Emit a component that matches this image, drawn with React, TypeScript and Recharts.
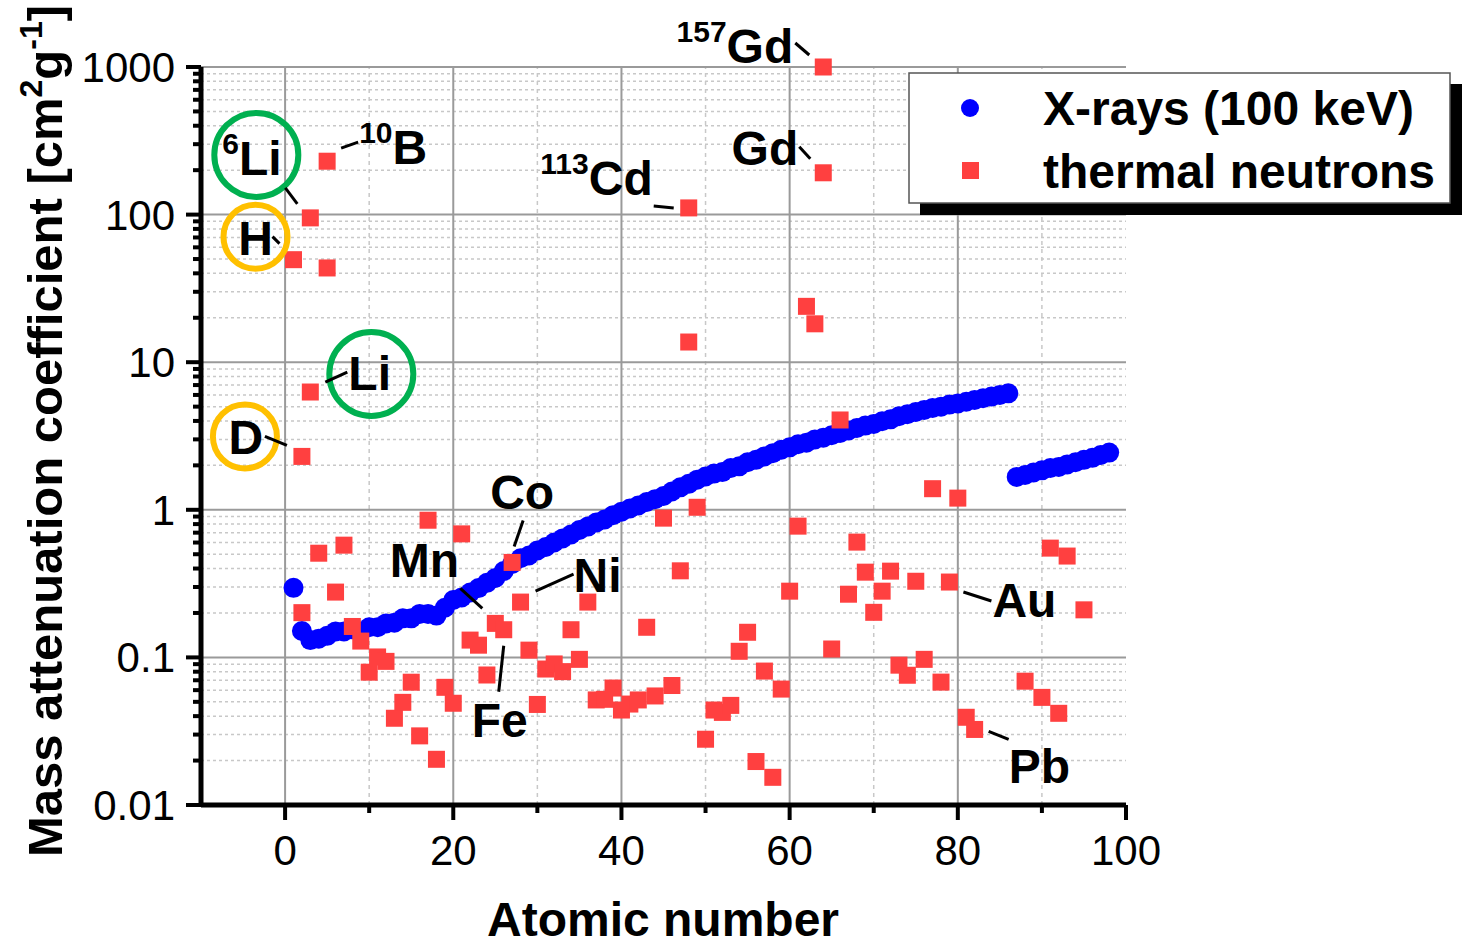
import { ScatterChart, Scatter, XAxis, YAxis, ReferenceLine, ReferenceDot, Legend } from 'recharts';

const FONT = '"Liberation Sans", Arial, sans-serif';

// X-rays at 100 keV, one value per element (Z = 1..98)
const xrayZ = [
  1, 2, 3, 4, 5, 6, 7, 8, 9, 10, 11, 12, 13, 14, 15, 16, 17, 18, 19, 20,
  21, 22, 23, 24, 25, 26, 27, 28, 29, 30, 31, 32, 33, 34, 35, 36, 37, 38, 39, 40,
  41, 42, 43, 44, 45, 46, 47, 48, 49, 50, 51, 52, 53, 54, 55, 56, 57, 58, 59, 60,
  61, 62, 63, 64, 65, 66, 67, 68, 69, 70, 71, 72, 73, 74, 75, 76, 77, 78, 79, 80,
  81, 82, 83, 84, 85, 86, 87, 88, 89, 90, 91, 92, 93, 94, 95, 96, 97, 98,
];
const xrayValues = [
  0.296, 0.151, 0.131, 0.134, 0.14, 0.15, 0.15, 0.155, 0.15, 0.16,
  0.16, 0.17, 0.172, 0.184, 0.184, 0.197, 0.197, 0.192, 0.217, 0.245,
  0.255, 0.275, 0.295, 0.32, 0.345, 0.385, 0.43, 0.47, 0.49, 0.53,
  0.56, 0.6, 0.64, 0.68, 0.73, 0.77, 0.82, 0.86, 0.92, 0.97,
  1.02, 1.07, 1.13, 1.18, 1.24, 1.33, 1.42, 1.5, 1.6, 1.68,
  1.76, 1.8, 1.92, 1.97, 2.1, 2.18, 2.3, 2.42, 2.55, 2.65,
  2.78, 2.85, 3.0, 3.08, 3.2, 3.32, 3.45, 3.58, 3.72, 3.82,
  3.98, 4.1, 4.3, 4.44, 4.6, 4.75, 4.9, 5.0, 5.16, 5.25,
  5.4, 5.55, 5.7, 5.85, 6.0, 6.15, 1.67, 1.72, 1.79, 1.85,
  1.92, 1.95, 2.03, 2.1, 2.18, 2.25, 2.35, 2.44,
];

// thermal neutrons (isotopes 6Li, 10B, 113Cd, 157Gd and D included)
const neutronZ = [
  1, 2, 2, 3, 3, 4, 5, 5, 6, 7, 8, 9, 10, 11, 12, 13, 14, 15, 16, 17, 18, 19, 20,
  21, 22, 23, 24, 25, 26, 27, 28, 29, 30, 31, 32, 33, 34, 35, 36, 37, 38, 39, 40,
  41, 42, 43, 44, 45, 46, 47, 48, 48, 49, 50, 51, 52, 53, 54, 55, 56, 57, 58, 59, 60,
  61, 62, 63, 64, 64, 65, 66, 67, 68, 69, 70, 71, 72, 73, 74, 75, 76, 77, 78, 79, 80,
  81, 82, 88, 90, 91, 92, 93, 95,
];
const neutronValues = [
  49.5, 2.3, 0.201, 95, 6.28, 0.508, 230, 43.5, 0.277, 0.576, 0.162, 0.129, 0.0794, 0.1007, 0.094, 0.0387, 0.0496, 0.0679, 0.0294, 0.85, 0.0204, 0.0627, 0.0489,
  0.687, 0.131, 0.121, 0.076, 0.17, 0.154, 0.44, 0.237, 0.112, 0.048, 0.0834, 0.0903, 0.0801, 0.154, 0.097, 0.237, 0.0515, 0.052, 0.062, 0.044,
  0.0483, 0.0515, 0.16, 0.0548, 0.878, 0.0645, 0.386, 111, 13.7, 1.04, 0.0279, 0.044, 0.0424, 0.0473, 0.11, 0.148, 0.0197, 0.0808, 0.0154, 0.061, 0.281,
  0.775, 23.9, 18.2, 1000, 192, 0.114, 4.06, 0.268, 0.604, 0.378, 0.202, 0.281, 0.384, 0.0886, 0.0757, 0.328, 0.097, 1.39, 0.068, 0.324, 1.2,
  0.0393, 0.0325, 0.069, 0.0536, 0.55, 0.0418, 0.486, 0.21,
];

const yMajorTicks = [0.01, 0.1, 1, 10, 100, 1000];
const yMinorTicks = [
  0.02, 0.03, 0.04, 0.05, 0.06, 0.07, 0.08, 0.09,
  0.2, 0.3, 0.4, 0.5, 0.6, 0.7, 0.8, 0.9,
  2, 3, 4, 5, 6, 7, 8, 9,
  20, 30, 40, 50, 60, 70, 80, 90,
  200, 300, 400, 500, 600, 700, 800, 900,
];
const xMajorTicks = [0, 20, 40, 60, 80, 100];
const xMinorTicks = [10, 30, 50, 70, 90];

// labelled points
const annotTexts = ['Gd', 'Gd', 'Cd', 'B', 'Li', 'H', 'Li', 'D', 'Co', 'Mn', 'Ni', 'Fe', 'Au', 'Pb'];
const annotSups = ['157', '', '113', '10', '6', '', '', '', '', '', '', '', '', ''];
const annotZ = [64, 64, 48, 5, 3, 1, 3, 2, 27, 25, 28, 26, 79, 82];
const annotValues = [1000, 192, 111, 230, 95, 49.5, 6.28, 2.3, 0.44, 0.17, 0.237, 0.154, 0.324, 0.0325];

// pixel offsets of text / leader line / ring relative to the point
const GREEN = '#00b050';
const ORANGE = '#ffc000';
const annotLayout: any[] = [
  { anchor: 'end', tx: -30, ty: -4, line: [-28, -24, -14, -12] },
  { anchor: 'end', tx: -25, ty: -8, line: [-24, -26, -13, -14] },
  { anchor: 'end', tx: -36, ty: -13, line: [-35, -2, -15, 0] },
  { anchor: 'start', tx: 32, ty: 3, line: [14, -13, 31, -19] },
  { anchor: 'start', tx: -88, ty: -43, line: [-25, -30, -13, -14], ring: [-54, -63, 42, GREEN] },
  { anchor: 'middle', tx: -38, ty: -5, line: [-21, -23, -14, -16], ring: [-38, -23, 32, ORANGE] },
  { anchor: 'start', tx: 38, ty: -2, line: [15, -10, 37, -20], ring: [61, -18, 42, GREEN] },
  { anchor: 'middle', tx: -56, ty: -2, line: [-37, -20, -15, -11], ring: [-57, -20, 32, ORANGE] },
  { anchor: 'middle', tx: 10, ty: -53, line: [11, -42, 2, -16] },
  { anchor: 'middle', tx: -71, ty: -46, line: [-35, -35, -13, -15] },
  { anchor: 'start', tx: 53, ty: -10, line: [15, -11, 53, -28] },
  { anchor: 'middle', tx: -4, ty: 107, line: [0, 16, -5, 62] },
  { anchor: 'start', tx: 43, ty: 35, line: [14, 10, 42, 19] },
  { anchor: 'start', tx: 34, ty: 54, line: [14, 2, 34, 10] },
];

const xrayData = xrayZ.map((z, i) => ({ z, v: xrayValues[i] }));
const neutronData = neutronZ.map((z, i) => ({ z, v: neutronValues[i] }));

function Annotation({ cx, cy, i }: any) {
  const L = annotLayout[i];
  const sup = annotSups[i];
  return (
    <g>
      {L.ring && (
        <circle cx={cx + L.ring[0]} cy={cy + L.ring[1]} r={L.ring[2]} fill="none" stroke={L.ring[3]} strokeWidth={6} />
      )}
      <line x1={cx + L.line[0]} y1={cy + L.line[1]} x2={cx + L.line[2]} y2={cy + L.line[3]} stroke="#000" strokeWidth={3} />
      <text x={cx + L.tx} y={cy + L.ty} textAnchor={L.anchor} fontFamily={FONT} fontWeight="bold" fontSize={48} fill="#000">
        {sup && <tspan fontSize={30} dy={-21}>{sup}</tspan>}
        <tspan dy={sup ? 21 : 0}>{annotTexts[i]}</tspan>
      </text>
    </g>
  );
}

function YTick({ x, y, payload }: any) {
  const major = yMajorTicks.includes(payload.value);
  return (
    <g>
      <line x1={x - (major ? 15 : 8)} x2={x} y1={y} y2={y} stroke="#000" strokeWidth={4} />
      {major && (
        <text x={x - 26} y={y + 15} textAnchor="end" fontFamily={FONT} fontSize={42} fill="#000">
          {payload.value}
        </text>
      )}
    </g>
  );
}

function XTick({ x, y, payload }: any) {
  const major = xMajorTicks.includes(payload.value);
  return (
    <g>
      <line x1={x} x2={x} y1={y} y2={y + (major ? 15 : 8)} stroke="#000" strokeWidth={4} />
      {major && (
        <text x={x} y={y + 60} textAnchor="middle" fontFamily={FONT} fontSize={42} fill="#000">
          {payload.value}
        </text>
      )}
    </g>
  );
}

const YTitle = () => (
  <text transform="translate(62,431) rotate(-90)" textAnchor="middle" fontFamily={FONT} fontWeight="bold" fontSize={49} fill="#000">
    Mass attenuation coefficient [cm
    <tspan fontSize={32} dy={-20}>2</tspan>
    <tspan dy={20}>g</tspan>
    <tspan fontSize={32} dy={-20}>-1</tspan>
    <tspan dy={20}>]</tspan>
  </text>
);

const XTitle = () => (
  <text x={663} y={936} textAnchor="middle" fontFamily={FONT} fontWeight="bold" fontSize={48} fill="#000">
    Atomic number
  </text>
);

const LegendBox = () => (
  <svg width={560} height={150}>
    <rect x={12} y={12} width={542} height={131} fill="#000" />
    <rect x={1} y={1} width={541} height={130} fill="#fff" stroke="#555" strokeWidth={1.5} />
    <circle cx={62} cy={36} r={9} fill="#0000ff" />
    <rect x={54} y={90} width={17} height={17} fill="#ff4040" />
    <text x={135} y={53} fontFamily={FONT} fontWeight="bold" fontSize={48} fill="#000">X-rays (100 keV)</text>
    <text x={135} y={116} fontFamily={FONT} fontWeight="bold" fontSize={48} fill="#000">thermal neutrons</text>
  </svg>
);

export default function App() {
  return (
    <div style={{ position: 'absolute', left: 0, top: 0, width: 1473, height: 946, background: '#fff' }}>
      <ScatterChart width={1473} height={946} margin={{ top: 67, right: 347, bottom: 0, left: 0 }}>
        <XAxis
          type="number"
          dataKey="z"
          domain={[-10, 100]}
          ticks={[...xMajorTicks, ...xMinorTicks].sort((a, b) => a - b)}
          interval={0}
          height={141}
          tickSize={0}
          tickMargin={0}
          tick={<XTick />}
          axisLine={{ stroke: '#000', strokeWidth: 5 }}
          label={<XTitle />}
        />
        <YAxis
          type="number"
          dataKey="v"
          scale="log"
          domain={[0.01, 1000]}
          ticks={[...yMajorTicks, ...yMinorTicks].sort((a, b) => a - b)}
          interval={0}
          width={201}
          tickSize={0}
          tickMargin={0}
          tick={<YTick />}
          axisLine={{ stroke: '#000', strokeWidth: 5 }}
          label={<YTitle />}
        />
        {yMinorTicks.map((v) => (
          <ReferenceLine key={'ym' + v} y={v} stroke="#c8c8c8" strokeWidth={1.5} strokeDasharray="3 3" />
        ))}
        {xMinorTicks.map((v) => (
          <ReferenceLine key={'xm' + v} x={v} stroke="#c8c8c8" strokeWidth={1.5} strokeDasharray="4 4" />
        ))}
        {yMajorTicks.slice(1).map((v) => (
          <ReferenceLine key={'yM' + v} y={v} stroke="#9a9a9a" strokeWidth={2} />
        ))}
        {xMajorTicks.slice(0, 5).map((v) => (
          <ReferenceLine key={'xM' + v} x={v} stroke="#9a9a9a" strokeWidth={2} />
        ))}
        <Legend
          layout="vertical"
          align="center"
          verticalAlign="middle"
          wrapperStyle={{ left: 908, top: 72, width: 560, height: 150 }}
          content={() => <LegendBox />}
        />
        <Scatter
          name="X-rays (100 keV)"
          data={xrayData}
          isAnimationActive={false}
          shape={(p: any) => <circle cx={p.cx} cy={p.cy} r={10} fill="#0000ff" />}
        />
        <Scatter
          name="thermal neutrons"
          data={neutronData}
          isAnimationActive={false}
          shape={(p: any) => <rect x={p.cx - 8.5} y={p.cy - 8.5} width={17} height={17} fill="#ff4040" />}
        />
        {annotZ.map((z, i) => (
          <ReferenceDot
            key={'a' + i}
            x={z}
            y={annotValues[i]}
            r={0}
            ifOverflow="visible"
            shape={(p: any) => <Annotation cx={p.cx} cy={p.cy} i={i} />}
          />
        ))}
      </ScatterChart>
    </div>
  );
}
